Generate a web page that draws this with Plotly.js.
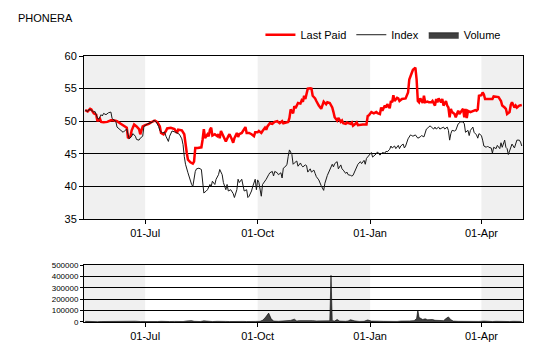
<!DOCTYPE html>
<html>
<head>
<meta charset="utf-8">
<script src="https://cdn.plot.ly/plotly-3.0.1.min.js"></script>
<style>html,body{margin:0;padding:0;background:#fff;}#chart{width:540px;height:360px;}</style>
</head>
<body>
<div id="chart"></div>
<script>
// ---- data ----
const lastPaidDates = ["2011-05-13","2011-05-15","2011-05-17","2011-05-18","2011-05-20","2011-05-22","2011-05-23","2011-05-25","2011-05-26","2011-05-28","2011-05-31","2011-06-03","2011-06-05","2011-06-08","2011-06-11","2011-06-14","2011-06-16","2011-06-17","2011-06-19","2011-06-20","2011-06-22","2011-06-24","2011-06-26","2011-06-27","2011-06-29","2011-07-01","2011-07-04","2011-07-07","2011-07-09","2011-07-11","2011-07-13","2011-07-14","2011-07-16","2011-07-18","2011-07-19","2011-07-22","2011-07-25","2011-07-27","2011-07-28","2011-07-31","2011-08-02","2011-08-04","2011-08-05","2011-08-07","2011-08-09","2011-08-10","2011-08-11","2011-08-13","2011-08-16","2011-08-17","2011-08-18","2011-08-19","2011-08-21","2011-08-22","2011-08-23","2011-08-24","2011-08-25","2011-08-27","2011-08-29","2011-08-30","2011-08-31","2011-09-01","2011-09-03","2011-09-04","2011-09-05","2011-09-07","2011-09-08","2011-09-10","2011-09-11","2011-09-12","2011-09-14","2011-09-15","2011-09-16","2011-09-18","2011-09-19","2011-09-21","2011-09-22","2011-09-24","2011-09-26","2011-09-28","2011-09-29","2011-10-01","2011-10-02","2011-10-04","2011-10-05","2011-10-07","2011-10-08","2011-10-09","2011-10-11","2011-10-13","2011-10-15","2011-10-17","2011-10-19","2011-10-21","2011-10-22","2011-10-24","2011-10-26","2011-10-27","2011-10-28","2011-10-30","2011-10-31","2011-11-01","2011-11-03","2011-11-05","2011-11-06","2011-11-07","2011-11-08","2011-11-09","2011-11-10","2011-11-11","2011-11-13","2011-11-14","2011-11-15","2011-11-17","2011-11-18","2011-11-19","2011-11-20","2011-11-22","2011-11-23","2011-11-24","2011-11-26","2011-11-27","2011-11-29","2011-12-01","2011-12-02","2011-12-03","2011-12-05","2011-12-06","2011-12-08","2011-12-09","2011-12-10","2011-12-12","2011-12-13","2011-12-14","2011-12-16","2011-12-17","2011-12-18","2011-12-20","2011-12-21","2011-12-22","2011-12-24","2011-12-26","2011-12-28","2011-12-29","2011-12-30","2011-12-31","2012-01-02","2012-01-04","2012-01-06","2012-01-07","2012-01-09","2012-01-10","2012-01-11","2012-01-13","2012-01-14","2012-01-15","2012-01-17","2012-01-18","2012-01-19","2012-01-20","2012-01-21","2012-01-23","2012-01-24","2012-01-25","2012-01-27","2012-01-30","2012-02-01","2012-02-02","2012-02-04","2012-02-05","2012-02-07","2012-02-08","2012-02-09","2012-02-10","2012-02-11","2012-02-13","2012-02-14","2012-02-15","2012-02-17","2012-02-18","2012-02-20","2012-02-21","2012-02-23","2012-02-24","2012-02-25","2012-02-26","2012-02-28","2012-02-29","2012-03-01","2012-03-03","2012-03-04","2012-03-05","2012-03-06","2012-03-07","2012-03-08","2012-03-10","2012-03-11","2012-03-13","2012-03-14","2012-03-15","2012-03-17","2012-03-18","2012-03-19","2012-03-20","2012-03-21","2012-03-23","2012-03-24","2012-03-25","2012-03-27","2012-03-28","2012-03-29","2012-03-30","2012-04-01","2012-04-02","2012-04-03","2012-04-04","2012-04-06","2012-04-08","2012-04-10","2012-04-11","2012-04-13","2012-04-15","2012-04-17","2012-04-18","2012-04-20","2012-04-21","2012-04-22","2012-04-24","2012-04-25","2012-04-26","2012-04-28","2012-04-29","2012-04-30","2012-05-02","2012-05-04"];
const lastPaidValues = [51.7,51.5,51.9,51.8,51.2,51.0,50.0,50.4,49.9,49.85,49.9,50.15,50.15,50.0,49.6,49.3,49.0,47.4,47.7,48.6,49.5,49.2,48.8,48.0,49.2,49.4,49.6,49.95,50.1,49.85,49.2,48.2,48.0,48.5,48.9,49.0,48.8,48.2,48.7,48.6,48.0,45.2,44.1,43.7,43.5,43.8,45.9,45.9,46.0,47.2,48.8,47.4,48.0,47.7,48.7,49.0,47.8,48.0,47.7,48.0,47.4,48.5,47.7,47.3,46.9,47.7,48.0,47.2,46.7,47.4,48.2,47.6,48.0,48.2,48.5,49.1,48.2,48.2,48.0,47.7,48.3,48.3,48.5,48.2,48.5,49.0,48.7,49.2,49.7,49.6,49.9,50.0,49.7,50.0,49.7,49.85,49.9,50.5,51.8,51.2,52.3,52.0,52.8,52.7,53.2,53.0,53.9,53.4,54.4,55.0,55.05,55.0,53.9,53.5,53.1,52.6,52.4,51.9,52.6,53.0,52.6,52.9,52.8,52.1,51.4,50.6,50.1,50.5,49.9,50.1,49.7,49.6,49.8,49.7,49.6,49.8,49.3,49.6,49.8,49.4,49.5,49.5,49.5,49.5,50.8,50.9,51.4,51.2,51.4,51.25,51.1,52.1,51.6,52.4,52.1,52.6,52.0,53.1,52.9,54.0,53.1,53.6,53.5,53.1,53.4,53.5,54.4,56.4,57.4,57.9,58.2,56.4,53.1,52.9,53.5,52.8,53.9,52.9,53.0,52.9,52.9,53.1,52.4,53.4,52.9,53.5,52.9,53.4,52.4,53.1,52.4,52.1,50.6,51.9,51.4,51.1,50.6,51.6,51.1,51.4,51.9,50.6,51.9,50.5,51.6,51.4,51.5,51.6,51.7,51.6,51.8,53.9,54.0,54.4,54.1,53.4,53.4,53.3,53.4,53.8,53.7,53.7,53.1,52.4,52.1,51.9,51.1,51.4,52.5,52.9,52.1,52.4,52.1,52.4,52.5];

const indexDates = ["2011-05-13","2011-05-15","2011-05-16","2011-05-18","2011-05-20","2011-05-21","2011-05-23","2011-05-24","2011-05-26","2011-05-27","2011-05-28","2011-05-30","2011-06-01","2011-06-03","2011-06-04","2011-06-05","2011-06-07","2011-06-08","2011-06-10","2011-06-11","2011-06-13","2011-06-14","2011-06-16","2011-06-17","2011-06-18","2011-06-20","2011-06-21","2011-06-23","2011-06-24","2011-06-26","2011-06-27","2011-06-29","2011-06-30","2011-07-03","2011-07-05","2011-07-07","2011-07-08","2011-07-10","2011-07-12","2011-07-13","2011-07-15","2011-07-17","2011-07-18","2011-07-20","2011-07-21","2011-07-23","2011-07-26","2011-07-29","2011-07-31","2011-08-01","2011-08-02","2011-08-03","2011-08-05","2011-08-06","2011-08-07","2011-08-08","2011-08-09","2011-08-10","2011-08-11","2011-08-12","2011-08-14","2011-08-16","2011-08-17","2011-08-18","2011-08-20","2011-08-21","2011-08-23","2011-08-24","2011-08-25","2011-08-27","2011-08-28","2011-08-30","2011-08-31","2011-09-02","2011-09-03","2011-09-05","2011-09-06","2011-09-07","2011-09-09","2011-09-11","2011-09-12","2011-09-14","2011-09-15","2011-09-16","2011-09-18","2011-09-19","2011-09-20","2011-09-22","2011-09-23","2011-09-24","2011-09-26","2011-09-27","2011-09-29","2011-09-30","2011-10-01","2011-10-02","2011-10-03","2011-10-04","2011-10-05","2011-10-07","2011-10-08","2011-10-10","2011-10-11","2011-10-13","2011-10-14","2011-10-15","2011-10-17","2011-10-18","2011-10-20","2011-10-21","2011-10-22","2011-10-24","2011-10-25","2011-10-26","2011-10-27","2011-10-29","2011-10-30","2011-10-31","2011-11-02","2011-11-03","2011-11-05","2011-11-06","2011-11-07","2011-11-09","2011-11-10","2011-11-11","2011-11-13","2011-11-14","2011-11-16","2011-11-17","2011-11-18","2011-11-20","2011-11-21","2011-11-22","2011-11-24","2011-11-25","2011-11-27","2011-11-28","2011-11-29","2011-12-01","2011-12-02","2011-12-03","2011-12-05","2011-12-06","2011-12-08","2011-12-09","2011-12-10","2011-12-12","2011-12-13","2011-12-14","2011-12-16","2011-12-17","2011-12-18","2011-12-20","2011-12-21","2011-12-22","2011-12-24","2011-12-25","2011-12-27","2011-12-28","2011-12-29","2011-12-31","2012-01-01","2012-01-02","2012-01-03","2012-01-05","2012-01-06","2012-01-07","2012-01-09","2012-01-10","2012-01-11","2012-01-13","2012-01-14","2012-01-15","2012-01-17","2012-01-18","2012-01-19","2012-01-21","2012-01-22","2012-01-24","2012-01-25","2012-01-26","2012-01-28","2012-01-29","2012-01-30","2012-02-01","2012-02-02","2012-02-03","2012-02-04","2012-02-05","2012-02-07","2012-02-08","2012-02-09","2012-02-11","2012-02-12","2012-02-14","2012-02-15","2012-02-16","2012-02-18","2012-02-19","2012-02-20","2012-02-22","2012-02-23","2012-02-24","2012-02-26","2012-02-27","2012-02-28","2012-03-01","2012-03-02","2012-03-04","2012-03-05","2012-03-06","2012-03-07","2012-03-08","2012-03-10","2012-03-11","2012-03-13","2012-03-14","2012-03-15","2012-03-17","2012-03-18","2012-03-19","2012-03-21","2012-03-22","2012-03-23","2012-03-25","2012-03-26","2012-03-28","2012-03-29","2012-03-30","2012-04-01","2012-04-02","2012-04-03","2012-04-05","2012-04-06","2012-04-07","2012-04-09","2012-04-10","2012-04-11","2012-04-13","2012-04-14","2012-04-16","2012-04-17","2012-04-18","2012-04-20","2012-04-21","2012-04-22","2012-04-23","2012-04-25","2012-04-26","2012-04-28","2012-04-29","2012-04-30","2012-05-02","2012-05-03","2012-05-04"];
const indexValues = [51.7,51.5,51.8,51.7,51.4,51.5,50.5,50.3,51.0,50.8,51.2,51.0,51.3,51.4,50.4,50.3,50.0,49.1,48.8,48.7,48.3,48.5,48.8,48.0,47.3,47.7,48.1,47.7,47.2,47.1,47.4,47.7,49.2,49.6,49.7,49.85,50.15,49.9,49.2,48.6,48.2,48.3,47.7,46.9,47.7,48.5,48.3,48.0,47.3,46.4,44.6,43.4,42.1,41.5,40.6,40.3,40.0,41.3,42.3,42.7,42.8,42.6,40.6,39.0,39.3,39.5,40.3,40.0,40.8,40.3,41.1,41.8,42.6,41.8,40.6,39.5,40.3,39.3,39.5,38.9,38.3,39.5,41.1,40.6,41.1,40.3,39.3,39.5,38.3,38.5,39.3,40.0,41.1,39.5,41.0,40.6,39.8,38.5,40.3,40.8,41.1,41.8,42.1,42.3,41.6,42.3,42.1,41.8,42.1,41.3,42.8,43.1,43.4,44.6,45.6,44.9,43.4,43.6,43.9,43.1,43.6,43.2,43.0,43.3,43.2,42.2,42.7,42.2,42.5,42.0,41.5,41.0,40.5,40.1,39.4,40.5,41.7,42.2,42.7,43.4,43.0,43.5,43.8,42.7,43.3,42.7,42.5,42.0,42.2,41.8,41.7,41.6,41.7,42.7,43.0,43.4,43.8,43.5,44.0,43.4,44.3,44.8,45.0,45.2,44.5,44.8,45.0,45.3,44.8,45.0,45.2,45.1,45.4,45.3,45.7,46.2,45.9,46.2,45.8,46.3,45.8,46.2,46.5,45.9,46.2,47.3,47.6,47.9,47.8,47.7,47.9,47.7,47.4,47.6,47.8,47.6,48.2,48.8,49.1,49.3,49.1,48.8,49.1,48.8,49.1,48.8,48.9,49.1,48.8,49.1,48.6,47.1,48.1,48.6,48.5,48.6,49.6,49.8,49.9,49.9,49.6,48.3,48.6,47.8,48.6,49.1,48.3,47.9,47.4,48.1,47.8,47.1,46.2,46.0,46.2,46.0,45.9,45.1,46.0,45.8,46.3,45.8,46.7,46.0,47.1,46.0,45.8,44.9,46.2,46.5,45.9,46.5,47.1,47.1,46.8,46.2];

const volumeDates = ["2011-05-13","2011-05-16","2011-05-19","2011-05-23","2011-05-26","2011-05-30","2011-06-02","2011-06-06","2011-06-09","2011-06-13","2011-06-16","2011-06-20","2011-06-23","2011-06-27","2011-06-30","2011-07-04","2011-07-07","2011-07-11","2011-07-14","2011-07-18","2011-07-21","2011-07-25","2011-07-28","2011-08-01","2011-08-04","2011-08-08","2011-08-10","2011-08-15","2011-08-18","2011-08-22","2011-08-25","2011-08-29","2011-09-01","2011-09-05","2011-09-08","2011-09-12","2011-09-15","2011-09-19","2011-09-22","2011-09-26","2011-09-29","2011-10-03","2011-10-05","2011-10-07","2011-10-10","2011-10-12","2011-10-14","2011-10-18","2011-10-21","2011-10-25","2011-10-28","2011-10-31","2011-11-02","2011-11-04","2011-11-08","2011-11-11","2011-11-15","2011-11-18","2011-11-22","2011-11-25","2011-11-28","2011-11-29","2011-11-30","2011-12-01","2011-12-03","2011-12-05","2011-12-07","2011-12-09","2011-12-12","2011-12-14","2011-12-16","2011-12-19","2011-12-21","2011-12-23","2011-12-27","2011-12-30","2012-01-02","2012-01-05","2012-01-09","2012-01-12","2012-01-16","2012-01-19","2012-01-23","2012-01-26","2012-01-30","2012-02-02","2012-02-06","2012-02-08","2012-02-09","2012-02-10","2012-02-13","2012-02-15","2012-02-17","2012-02-21","2012-02-23","2012-02-27","2012-03-01","2012-03-03","2012-03-05","2012-03-07","2012-03-09","2012-03-13","2012-03-16","2012-03-20","2012-03-23","2012-03-27","2012-03-30","2012-04-03","2012-04-05","2012-04-10","2012-04-13","2012-04-17","2012-04-20","2012-04-24","2012-04-27","2012-05-01","2012-05-04"];
const volumeValues = [6000,4000,5000,3000,4000,5000,3000,4000,6000,3000,4000,5000,7000,4000,3000,5000,3000,4000,6000,3000,4000,5000,3000,4000,9000,12000,6000,4000,10000,5000,4000,6000,3000,5000,4000,6000,3000,5000,4000,8000,5000,6000,15000,35000,78000,30000,8000,6000,7000,10000,14000,25000,8000,12000,14000,10000,12000,9000,8000,6000,7000,10000,410000,12000,8000,22000,8000,5000,6000,9000,20000,10000,7000,5000,6000,18000,8000,5000,7000,6000,4000,7000,5000,8000,6000,9000,12000,30000,105000,40000,22000,28000,20000,22000,15000,10000,12000,30000,45000,20000,8000,6000,5000,7000,4000,6000,5000,8000,5000,4000,6000,3000,5000,4000,6000,3000,5000];

const tickDates = ["2011-07-01","2011-10-01","2012-01-01","2012-04-01"];
const tickLabels = ["01-Jul","01-Oct","01-Jan","01-Apr"];
const xRange = ["2011-05-12","2012-05-05"];
const shadedPeriods = [["2011-05-12","2011-07-01"],["2011-10-01","2012-01-01"],["2012-04-01","2012-05-05"]];

// ---- chart ----
const FONT = "Liberation Sans, Arial, sans-serif";
const traces = [
  {x: lastPaidDates, y: lastPaidValues, name: "Last Paid", type: "scatter", mode: "lines",
   line: {color: "#ff0000", width: 2.5}, xaxis: "x", yaxis: "y"},
  {x: indexDates, y: indexValues, name: "Index", type: "scatter", mode: "lines",
   line: {color: "#1a1a1a", width: 1}, xaxis: "x", yaxis: "y"},
  {x: volumeDates, y: volumeValues, name: "Volume", type: "scatter", mode: "lines",
   fill: "tozeroy", fillcolor: "#404040", line: {color: "#000000", width: 0.6},
   xaxis: "x2", yaxis: "y2"}
];

const shapes = [];
shadedPeriods.forEach(p => {
  ["y domain", "y2 domain"].forEach((yr, i) => {
    shapes.push({type: "rect", layer: "below", xref: i === 0 ? "x" : "x2", yref: yr,
      x0: p[0], x1: p[1], y0: 0, y1: 1, fillcolor: "#f0f0f0", line: {width: 0}});
  });
});

const axisCommon = {showline: true, linecolor: "#000", linewidth: 1, mirror: true,
  ticks: "outside", ticklen: 4, tickcolor: "#000", zeroline: false};

const layout = {
  width: 540, height: 360,
  paper_bgcolor: "#fff", plot_bgcolor: "#fff",
  margin: {l: 84, r: 17, t: 56, b: 38},
  font: {family: FONT, size: 11, color: "#000"},
  title: {text: "PHONERA", xref: "container", yref: "container", x: 18/540, xanchor: "left",
          y: 1 - 18/360, yanchor: "middle", font: {family: FONT, size: 11, color: "#000"}},
  showlegend: true,
  legend: {orientation: "h", x: 0.96, xanchor: "right", y: 1.08, yanchor: "middle",
           font: {family: FONT, size: 11, color: "#000"}, itemwidth: 30, bgcolor: "rgba(0,0,0,0)"},
  xaxis: Object.assign({}, axisCommon, {type: "date", range: xRange, domain: [0, 1], anchor: "y",
           tickvals: tickDates, ticktext: tickLabels, showgrid: false}),
  yaxis: Object.assign({}, axisCommon, {range: [35, 60], dtick: 5, tick0: 35, domain: [0.387, 1],
           anchor: "x", showgrid: true, gridcolor: "#000", gridwidth: 1}),
  xaxis2: Object.assign({}, axisCommon, {type: "date", range: xRange, domain: [0, 1], anchor: "y2",
           tickvals: tickDates, ticktext: tickLabels, showgrid: false, matches: "x"}),
  yaxis2: Object.assign({}, axisCommon, {range: [0, 500000], dtick: 100000, tick0: 0, domain: [0, 0.214],
           anchor: "x2", showgrid: true, gridcolor: "#000", gridwidth: 1, ticklen: 3,
           tickformat: "d", tickfont: {family: FONT, size: 8, color: "#000"}}),
  shapes: shapes,
  hovermode: false
};

Plotly.newPlot("chart", traces, layout, {staticPlot: true, displayModeBar: false});
</script>
</body>
</html>
